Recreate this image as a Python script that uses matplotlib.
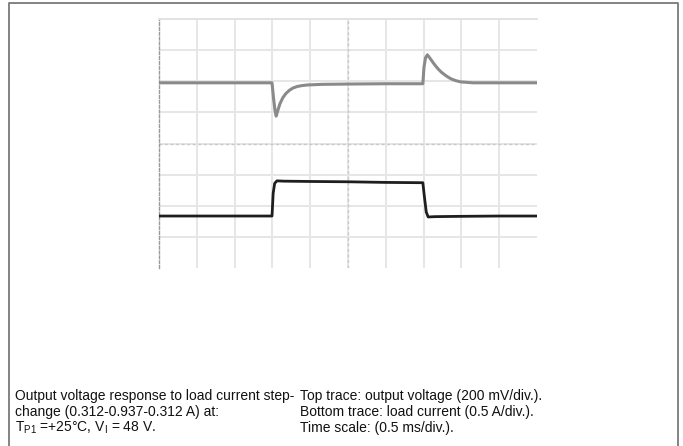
# -*- coding: utf-8 -*-

'''
Scope capture: output voltage response to a load current step.
'''

import numpy as np
import matplotlib
matplotlib.use('Agg')
import matplotlib.pyplot as plt

# Top trace (output voltage), in screen divisions.
vout_t = [0.0, 1.0, 2.0, 2.99, 3.03, 3.07, 3.10, 3.14, 3.20, 3.28, 3.36,
          3.45, 3.54, 3.65, 3.78, 3.92, 4.3, 5.0, 6.0, 6.98, 7.01, 7.05,
          7.10, 7.18, 7.28, 7.38, 7.48, 7.60, 7.72, 7.85, 7.98, 8.3, 9.0,
          10.0]
vout_v = [5.95, 5.95, 5.95, 5.95, 5.45, 5.05, 4.88, 5.05, 5.28, 5.48, 5.61,
          5.71, 5.78, 5.83, 5.86, 5.88, 5.90, 5.91, 5.92, 5.92, 6.45, 6.75,
          6.85, 6.72, 6.55, 6.40, 6.28, 6.17, 6.08, 6.02, 5.98, 5.95, 5.95,
          5.95]

# Bottom trace (load current).
iout_t = [0.0, 1.0, 2.0, 2.99, 3.02, 3.06, 3.12, 3.3, 4.0, 5.0, 6.0, 6.98,
          7.02, 7.07, 7.12, 7.3, 8.0, 9.0, 10.0]
iout_v = [1.67, 1.67, 1.67, 1.67, 2.40, 2.72, 2.80, 2.79, 2.78, 2.77, 2.75,
          2.74, 2.30, 1.80, 1.64, 1.65, 1.66, 1.67, 1.67]

x_grid = np.arange(1, 10)
y_grid = np.arange(1, 8)

cap_left = [
    'Output voltage response to load current step-',
    'change (0.312-0.937-0.312 A) at:',
    r'T$_{\mathrm{P1}}$ =+25°C, V$_{\mathrm{I}}$ = 48 V.']
cap_right = [
    'Top trace: output voltage (200 mV/div.).',
    'Bottom trace: load current (0.5 A/div.).',
    'Time scale: (0.5 ms/div.).']


def main():
    plt.rcParams['font.family'] = ['Liberation Sans', 'DejaVu Sans']
    plt.rcParams['mathtext.fontset'] = 'custom'
    plt.rcParams['mathtext.rm'] = 'Liberation Sans'

    W, H = 683, 446
    fig = plt.figure(figsize=(W / 100, H / 100), dpi=100)

    # outer frame
    fig.add_artist(plt.Line2D(
        [9 / W, 9 / W, 678 / W, 678 / W],
        [-0.01, (H - 3) / H, (H - 3) / H, -0.01],
        transform=fig.transFigure, color='#7a7a7a', lw=1.3))

    ax = fig.add_axes([159 / W, (H - 268) / H, 378 / W, 249 / H])

    ax.set_xlim(0, 10)
    ax.set_ylim(0, 8)
    ax.set_xticks(x_grid)
    ax.set_yticks(y_grid)
    ax.tick_params(length=0, labelleft=False, labelbottom=False)
    ax.grid(color='#e6e6e6', lw=1.4)
    ax.set_axisbelow(True)

    ax.axvline(5, color='#c8c8c8', lw=1.0, ls=(0, (2, 2)), zorder=1)
    ax.axhline(4, color='#c8c8c8', lw=1.0, ls=(0, (2, 2)), zorder=1)

    for s in ('right', 'bottom'):
        ax.spines[s].set_visible(False)
    ax.spines['top'].set_color('#e2e2e2')
    ax.spines['top'].set_linewidth(1.4)
    ax.spines['left'].set_color('#9a9a9a')
    ax.spines['left'].set_linestyle((0, (2, 1.5)))
    ax.spines['left'].set_linewidth(1.0)

    ax.plot(vout_t, vout_v, color='#8a8a8a', lw=2.2, zorder=3,
            solid_joinstyle='round')
    ax.plot(iout_t, iout_v, color='#1e1e1e', lw=2.0, zorder=3,
            solid_joinstyle='round')

    base_y = [400, 416, 432]
    for txt, py in zip(cap_left, base_y):
        fig.text(15 / W, (H - py) / H, txt, fontsize=10, va='baseline',
                 color='#111111')
    for txt, py in zip(cap_right, base_y):
        fig.text(300 / W, (H - py) / H, txt, fontsize=10, va='baseline',
                 color='#111111')

    fig.savefig('out.png', dpi=100)
    plt.close()
    return


if __name__ == '__main__':
    main()
